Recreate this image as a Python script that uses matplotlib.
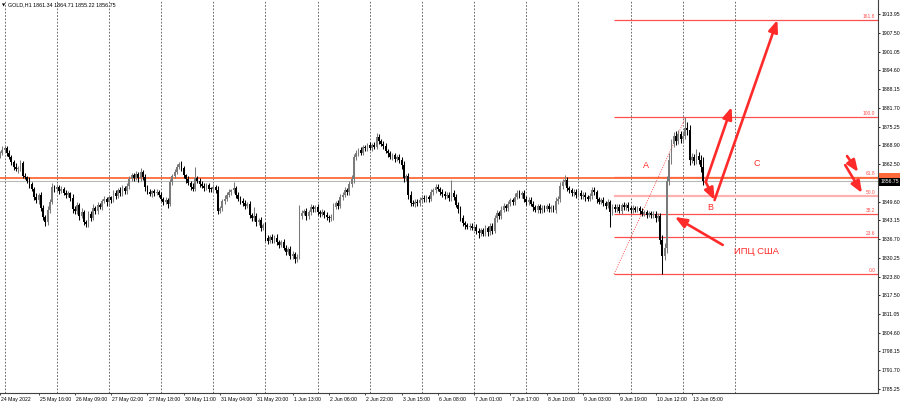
import numpy as np
import pandas as pd
import matplotlib
matplotlib.use("Agg")
import matplotlib.pyplot as plt
from matplotlib import transforms

plt.rcParams['font.family'] = ['Liberation Sans', 'DejaVu Sans']

# GOLD H1, 24 May 2022 22:00 .. 13 Jun 2022 10:00 (broker time, no 00:00 bar)
title_text = "GOLD,H1 1861.34 1864.71 1855.22 1856.75"
first_open = 1865.5

closes = [
    1866.2, 1867.4,
    # 25 May
    1867.9, 1866.1, 1865.0, 1863.2, 1861.4, 1860.6, 1861.0, 1862.8, 1858.5, 1857.9, 1856.8, 1855.5,
    1853.9, 1851.2, 1850.0, 1852.0, 1847.5, 1844.2, 1842.5, 1846.8, 1849.5, 1854.5, 1853.8,
    # 26 May
    1854.6, 1853.2, 1853.9, 1852.6, 1851.9, 1852.4, 1850.8, 1847.0, 1846.2, 1848.3, 1844.6, 1846.0,
    1842.6, 1841.8, 1845.4, 1844.0, 1847.4, 1846.2, 1848.5, 1847.6, 1849.8, 1850.4, 1849.3,
    # 27 May
    1851.0, 1850.2, 1852.6, 1851.4, 1853.5, 1852.4, 1854.2, 1853.1, 1854.9, 1857.4, 1858.6, 1857.8,
    1858.9, 1857.5, 1859.6, 1858.0, 1854.5, 1853.0, 1852.2, 1853.1, 1852.4, 1853.0, 1852.0,
    # 30 May
    1850.6, 1849.4, 1850.0, 1848.8, 1856.2, 1858.5, 1859.8, 1861.5, 1862.4, 1861.0, 1858.6, 1857.2,
    1856.0, 1854.6, 1854.0, 1857.5, 1856.8, 1855.6, 1855.0, 1854.3, 1855.2, 1854.0, 1853.8,
    # 31 May
    1854.5, 1853.6, 1846.5, 1847.2, 1849.8, 1850.6, 1851.9, 1852.8, 1853.4, 1854.1, 1852.0, 1850.5,
    1849.9, 1849.0, 1848.2, 1848.6, 1845.0, 1843.8, 1844.6, 1842.4, 1843.2, 1840.6, 1841.4,
    # 1 Jun
    1837.2, 1836.0, 1837.5, 1836.4, 1837.2, 1835.8, 1834.8, 1835.6, 1833.8, 1832.4, 1833.2, 1830.8,
    1831.6, 1829.8, 1830.6, 1844.5, 1845.6, 1846.2, 1844.5, 1845.9, 1847.8, 1846.9, 1847.6,
    # 2 Jun
    1846.0, 1845.3, 1846.1, 1844.9, 1844.2, 1843.8, 1844.4, 1847.8, 1849.0, 1848.2, 1851.2, 1852.0,
    1853.4, 1852.8, 1855.6, 1857.4, 1864.8, 1866.3, 1867.2, 1866.4, 1868.2, 1867.8, 1868.9,
    # 3 Jun
    1868.1, 1869.0, 1868.4, 1871.6, 1870.4, 1869.5, 1868.6, 1867.0, 1866.1, 1865.0, 1865.4, 1864.2,
    1864.8, 1863.8, 1862.0, 1857.5, 1858.2, 1852.0, 1849.2, 1848.8, 1849.6, 1849.0, 1850.2,
    # 6 Jun
    1850.8, 1850.3, 1851.0, 1850.6, 1852.9, 1853.4, 1854.6, 1854.0, 1853.0, 1852.2, 1851.5, 1852.0,
    1850.8, 1852.4, 1851.2, 1848.5, 1847.0, 1844.0, 1842.2, 1841.4, 1840.9, 1841.3, 1840.6,
    # 7 Jun
    1841.0, 1839.6, 1838.8, 1839.7, 1838.6, 1840.4, 1839.0, 1841.2, 1839.6, 1843.8, 1845.6, 1844.6,
    1846.8, 1848.2, 1847.3, 1848.9, 1850.0, 1849.4, 1851.2, 1852.6, 1851.8, 1852.4, 1850.4,
    # 8 Jun
    1849.4, 1850.2, 1848.8, 1847.6, 1846.8, 1847.9, 1846.6, 1847.5, 1847.0, 1848.0, 1846.9, 1847.6,
    1846.8, 1849.8, 1850.6, 1855.0, 1856.2, 1857.0, 1854.2, 1853.4, 1852.5, 1853.0, 1851.9,
    # 9 Jun
    1852.5, 1851.4, 1852.0, 1851.0, 1850.6, 1851.4, 1853.6, 1852.8, 1850.3, 1849.6, 1850.2, 1849.0,
    1848.2, 1849.3, 1846.0, 1847.8, 1847.0, 1847.8, 1846.4, 1848.4, 1847.6, 1848.3, 1847.2,
    # 10 Jun
    1846.6, 1847.4, 1846.8, 1847.2, 1846.3, 1845.4, 1845.9, 1845.0, 1845.6, 1844.8, 1845.4, 1843.9,
    1844.6, 1836.5, 1831.0, 1833.5, 1856.5, 1864.0, 1869.5, 1872.0, 1870.5, 1872.6, 1871.0,
    # 13 Jun
    1872.2, 1874.8, 1874.0, 1864.0, 1864.8, 1863.6, 1865.2, 1864.0, 1861.34, 1856.75,
]

upper_wick = [
    0.8, 1.1,
    0.9, 0.6, 1.2, 0.5, 0.8, 1.4, 0.7, 1.0, 0.6, 0.9, 0.5, 1.1, 0.7, 0.8, 1.3, 0.6, 1.0, 0.9, 0.7, 1.2, 0.8, 1.5, 0.9,
    1.0, 0.7, 0.9, 0.6, 1.1, 0.8, 0.5, 1.3, 0.9, 1.0, 0.7, 1.2, 0.6, 0.8, 1.1, 0.9, 1.4, 0.7, 1.0, 0.6, 0.8, 1.1, 0.7,
    0.9, 0.6, 1.0, 0.8, 0.7, 1.2, 0.9, 0.6, 1.1, 1.0, 0.8, 0.7, 1.0, 0.9, 1.4, 0.8, 1.1, 0.7, 0.9, 0.6, 0.8, 1.0, 0.7,
    0.8, 0.6, 1.1, 0.9, 1.2, 0.7, 1.0, 0.8, 0.7, 1.1, 0.9, 0.6, 1.0, 0.8, 1.2, 4.0, 0.9, 0.7, 1.0, 0.8, 0.6, 0.9, 0.7,
    1.0, 0.8, 1.3, 0.9, 0.7, 1.1, 0.8, 1.0, 0.6, 2.2, 0.9, 0.7, 1.1, 0.8, 1.0, 0.9, 1.2, 0.8, 3.0, 1.0, 0.7, 1.1, 0.8,
    1.2, 0.9, 0.7, 1.0, 0.8, 1.1, 0.6, 0.9, 1.0, 0.8, 0.7, 1.2, 0.9, 0.8, 1.0, 3.9, 1.2, 0.9, 1.1, 0.8, 1.0, 0.7, 0.9,
    1.0, 0.8, 0.9, 0.7, 1.1, 0.6, 0.9, 1.2, 0.8, 1.0, 0.9, 0.7, 1.1, 0.8, 1.0, 1.3, 1.2, 0.9, 0.8, 1.0, 0.7, 0.9, 0.8,
    1.0, 0.8, 0.9, 1.5, 1.0, 0.8, 0.9, 1.1, 0.7, 1.0, 0.8, 0.9, 0.7, 1.0, 1.2, 1.4, 1.0, 1.3, 1.1, 0.8, 0.9, 0.7, 1.0,
    0.8, 0.9, 0.7, 1.0, 1.1, 0.8, 0.9, 1.0, 0.7, 0.8, 1.1, 0.9, 0.7, 4.6, 1.0, 0.9, 0.8, 1.2, 1.0, 0.7, 0.9, 0.8, 1.0,
    0.9, 0.8, 1.0, 0.7, 0.9, 1.1, 0.8, 1.0, 0.9, 1.3, 1.0, 0.8, 1.1, 0.9, 0.7, 1.0, 0.8, 0.9, 1.2, 1.0, 0.8, 0.9, 1.1,
    1.0, 0.8, 0.9, 1.1, 0.7, 0.9, 1.0, 0.8, 0.9, 0.7, 1.0, 0.8, 0.9, 1.2, 1.0, 1.4, 1.1, 1.7, 1.0, 0.8, 0.9, 1.0, 0.8,
    0.9, 1.0, 0.8, 0.9, 0.7, 1.0, 1.1, 0.9, 0.8, 1.0, 0.7, 0.9, 0.8, 1.0, 0.9, 1.1, 0.8, 0.9, 1.0, 0.8, 0.9, 0.7, 1.0,
    0.8, 0.9, 0.7, 1.0, 0.8, 0.9, 0.7, 0.8, 0.9, 0.7, 0.8, 1.0, 0.9, 1.2, 1.5, 2.0, 1.8, 2.2, 1.6, 1.4, 1.8, 1.5, 1.2,
    1.6, 3.8, 2.2, 1.8, 1.4, 1.2, 2.3, 1.3, 1.5, 3.37,
]

lower_wick = [
    0.9, 0.7,
    0.8, 1.0, 0.7, 1.2, 0.9, 0.6, 1.1, 0.8, 1.0, 0.7, 0.9, 1.2, 0.8, 1.0, 0.9, 1.1, 1.3, 0.9, 1.4, 0.8, 1.0, 0.7, 0.9,
    0.8, 1.0, 0.7, 0.9, 1.1, 0.8, 1.0, 1.2, 0.9, 1.0, 1.3, 0.8, 1.1, 1.0, 0.9, 1.2, 0.8, 1.0, 0.9, 0.7, 1.0, 0.8, 1.1,
    0.9, 1.0, 0.8, 1.1, 0.7, 0.9, 1.0, 0.8, 0.9, 1.1, 0.8, 1.0, 0.9, 1.1, 0.8, 1.0, 1.2, 0.9, 0.8, 1.0, 0.9, 0.7, 1.0,
    0.9, 1.1, 0.8, 1.3, 0.9, 1.0, 0.8, 0.9, 0.7, 1.0, 0.9, 1.1, 0.8, 1.0, 0.9, 0.8, 1.0, 0.9, 0.8, 1.1, 0.9, 1.0, 0.8,
    0.9, 1.0, 1.2, 0.8, 1.0, 0.9, 0.7, 0.8, 1.0, 0.9, 1.1, 0.8, 1.0, 0.9, 1.1, 0.8, 1.2, 1.0, 0.9, 1.1, 0.8, 1.2, 0.9,
    1.1, 1.0, 0.8, 1.2, 0.9, 1.0, 1.1, 0.8, 1.0, 1.2, 0.9, 1.1, 1.0, 1.2, 1.0, 0.9, 1.0, 0.8, 1.1, 0.9, 1.0, 0.8, 1.0,
    0.9, 1.1, 0.8, 1.0, 0.9, 1.2, 0.8, 1.0, 0.9, 1.1, 0.8, 1.0, 0.9, 0.8, 1.0, 1.1, 1.3, 0.9, 1.0, 0.8, 0.9, 1.0, 0.8,
    0.9, 1.0, 0.8, 0.9, 1.1, 0.8, 1.0, 0.9, 1.1, 0.8, 1.0, 0.9, 0.8, 1.0, 1.2, 1.3, 1.0, 1.4, 1.1, 0.9, 1.0, 0.8, 0.9,
    1.0, 0.8, 0.9, 1.1, 0.8, 0.9, 1.0, 0.8, 1.1, 0.9, 1.0, 0.8, 0.9, 1.0, 1.1, 0.9, 1.2, 1.0, 0.9, 1.1, 0.8, 1.0, 0.9,
    1.0, 1.1, 1.7, 0.9, 1.0, 0.8, 1.2, 0.9, 1.0, 0.8, 1.1, 0.9, 1.0, 0.8, 0.9, 1.0, 0.8, 0.9, 1.0, 0.8, 0.9, 1.0, 1.1,
    0.9, 1.0, 0.8, 1.1, 0.9, 1.0, 0.8, 0.9, 1.1, 0.8, 1.0, 0.9, 0.8, 1.0, 0.9, 1.1, 1.0, 0.9, 1.1, 0.8, 1.0, 0.9, 1.0,
    0.8, 1.0, 0.9, 1.1, 0.8, 0.9, 1.0, 0.8, 1.1, 0.9, 1.0, 0.8, 1.1, 0.9, 5.0, 1.0, 0.9, 1.1, 0.8, 1.0, 0.9, 1.0, 0.8,
    0.9, 1.0, 0.8, 0.9, 1.0, 0.8, 0.9, 1.1, 0.8, 0.9, 1.0, 1.2, 1.0, 1.4, 6.3, 1.5, 1.6, 1.3, 1.5, 1.2, 1.4, 1.1, 1.3,
    1.4, 1.2, 1.6, 1.8, 1.3, 1.5, 1.2, 1.4, 1.6, 1.53,
]

x_labels = ["24 May 2022", "25 May 16:00", "26 May 09:00", "27 May 02:00", "27 May 18:00",
            "30 May 11:00", "31 May 04:00", "31 May 20:00", "1 Jun 13:00", "2 Jun 06:00",
            "2 Jun 22:00", "3 Jun 15:00", "6 Jun 08:00", "7 Jun 01:00", "7 Jun 17:00",
            "8 Jun 10:00", "9 Jun 03:00", "9 Jun 19:00", "10 Jun 12:00", "13 Jun 05:00"]

price_ticks = [1913.95, 1907.50, 1901.05, 1894.60, 1888.15, 1881.70, 1875.25, 1868.90, 1862.50,
               1849.60, 1843.15, 1836.70, 1830.25, 1823.80, 1817.50, 1811.05, 1804.60, 1798.15,
               1791.70, 1785.25]

last_price = 1856.75
hline_price = 1857.66

# fibonacci retracement (anchors in bar index / price)
fib_x = [270.7, 302.3]
fib_price = [1824.7, 1878.6]
fib_levels = [0.0, 23.6, 38.2, 50.0, 61.8, 100.0, 161.8]

# hand drawn arrows (bar index, price)
arrow_tails = [(318.6, 1834.7), (311.1, 1856.3), (311.1, 1856.3), (315.0, 1850.1),
               (373.4, 1865.2), (372.6, 1862.1)]
arrow_heads = [(297.5, 1844.3), (322.5, 1882.0), (315.0, 1850.1), (342.7, 1911.9),
               (378.3, 1859.7), (380.0, 1852.5)]
notes = [("A", 284.8, 1861.8), ("B", 313.3, 1847.4), ("C", 333.5, 1862.8)]
cpi_note = ("ИПЦ США", 323.4, 1832.6)

# hourly bar index: weekdays, no 00:00 bar
times = pd.date_range("2022-05-24 22:00", "2022-06-13 10:00", freq="h")
times = times[(times.dayofweek < 5) & (times.hour != 0)]

c = np.array(closes)
o = np.array([first_open] + closes[:-1])
hi = np.maximum(o, c) + np.array(upper_wick)
lo = np.minimum(o, c) - np.array(lower_wick)
x = np.arange(len(c))

tick_pos = []
for lbl in x_labels:
    if "2022" in lbl:
        tick_pos.append(0)
    else:
        t = pd.to_datetime(lbl + " 2022", format="%d %b %H:%M %Y")
        tick_pos.append(int(np.where(times == t)[0][0]))

fig = plt.figure(figsize=(9, 4.04), dpi=100)
ax = fig.add_axes([0, 11 / 404, 878 / 900, 393 / 404])
ax.set_xlim(1.62, 387.05)
ax.set_ylim(1783.88, 1918.755)

# vertical grid (one per day)
for g in np.arange(2, 330, 23):
    ax.axvline(g, color="#505050", lw=0.6, ls=(0, (2, 2)), zorder=0)

red = "#ff2a2a"
fib_red = "#ff5050"

# horizontal lines
ax.axhline(last_price, color="#b8b8b8", lw=0.8, zorder=1)
ax.axhline(hline_price, color="#ff6a3a", lw=1.3, zorder=2)

# fibo
rng = fib_price[1] - fib_price[0]
tr = transforms.blended_transform_factory(ax.transAxes, ax.transData)
for lev in fib_levels:
    p = fib_price[0] + rng * lev / 100
    if lev == 50.0:
        ax.hlines(p, fib_x[0], 387.05, color="#ffb0b0", lw=1.6, zorder=1)
    else:
        ax.hlines(p, fib_x[0], 387.05, color=fib_red, lw=0.9, zorder=1)
    ax.text(0.997, p + 0.3, f"{lev:.1f}", transform=tr, ha="right", va="bottom",
            fontsize=3.5, color=fib_red)
ax.plot(fib_x, fib_price, color=fib_red, lw=0.7, ls=(0, (1, 1.5)), zorder=1)

# candles
bull = c >= o
col = np.where(bull, "#7a7a7a", "#000000")
ax.vlines(x, lo, hi, colors=col, lw=0.75, zorder=3)
ax.bar(x, np.maximum(np.abs(c - o), 0.3), bottom=np.minimum(o, c), width=0.8,
       color=col, lw=0, zorder=3)

# arrows and notes
for t, h in zip(arrow_tails, arrow_heads):
    ax.annotate("", xy=h, xytext=t,
                arrowprops=dict(arrowstyle="-|>,head_length=0.7,head_width=0.28",
                                color=red, lw=1.9, shrinkA=0, shrinkB=0), zorder=5)
for txt, nx, ny in notes:
    ax.text(nx, ny, txt, color=red, fontsize=6.5, ha="center", va="center")
ax.text(cpi_note[1], cpi_note[2], cpi_note[0], color=red, fontsize=6.8, ha="left", va="center")

# title
ax.text(0.002, 0.992, "\u25bc", transform=ax.transAxes, fontsize=3, va="top", ha="left",
        family=["DejaVu Sans"])
ax.text(0.009, 0.994, title_text, transform=ax.transAxes, fontsize=3.9, va="top", ha="left")

# axes
for s in ["left", "top"]:
    ax.spines[s].set_visible(False)
for s in ["right", "bottom"]:
    ax.spines[s].set_linewidth(0.8)
    ax.spines[s].set_color("#404040")
ax.yaxis.tick_right()
ax.set_yticks(price_ticks)
ax.set_yticklabels([f"{p:.2f}" for p in price_ticks])
ax.tick_params(axis="y", length=1.6, width=0.6, labelsize=3.7, pad=0.8)

# time axis: ticks plus labels on a common baseline
ax.set_xticks(tick_pos)
ax.set_xticklabels([])
ax.tick_params(axis="x", length=1.2, width=0.5)
tx = transforms.blended_transform_factory(ax.transData, ax.transAxes)
for pos, lbl in zip(tick_pos, x_labels):
    ax.text(pos + 0.5, -0.021, lbl, transform=tx, ha="left", va="baseline",
            fontsize=3.7, clip_on=False)

# price tags on the axis
ax.text(1.003, hline_price + 0.4, f"{hline_price:.2f}", transform=tr, va="center", ha="left",
        fontsize=3.7, color="#ff6a3a", clip_on=False,
        bbox=dict(boxstyle="square,pad=0.25", fc="#ff6a3a", ec="none"))
ax.text(1.003, last_price - 0.4, f"{last_price:.2f}", transform=tr, va="center", ha="left",
        fontsize=3.7, color="white", clip_on=False,
        bbox=dict(boxstyle="square,pad=0.25", fc="black", ec="none"))

fig.savefig("out.png", dpi=100)
